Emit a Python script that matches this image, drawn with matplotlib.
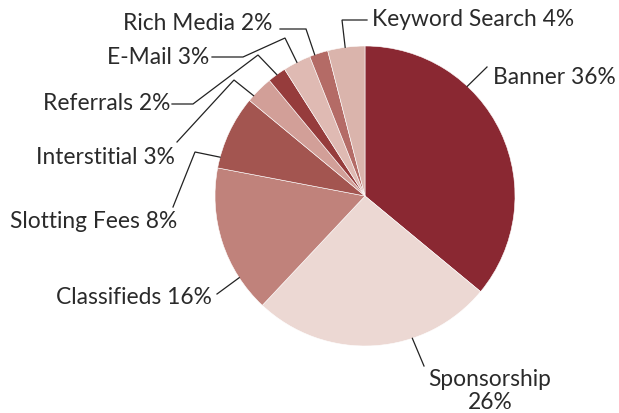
import numpy as np
import matplotlib
matplotlib.use("Agg")
import matplotlib.pyplot as plt

# Online ad revenue share by format
categories = ["Banner", "Sponsorship", "Classifieds", "Slotting Fees", "Interstitial",
              "Referrals", "E-Mail", "Rich Media", "Keyword Search"]
shares = [36, 26, 16, 8, 3, 2, 3, 2, 4]
colors = ["#8a2832", "#ecd8d3", "#c0827b", "#a35550", "#d29f98",
          "#963c3c", "#dfbab3", "#b46b66", "#dab4ac"]

W, H = 619, 413
CX, CY, R = 365, 196, 150
TEXT_COLOR = "#2a2a2a"

# label placement in pixel space: leader start angle on the rim (deg, ccw from 3 o'clock),
# elbow points, text anchor and alignment
layout = {
    "Banner":         dict(ang=47,    pts=[(487, 67)],             txt=(493, 78),  ha="left"),
    "Sponsorship":    dict(ang=-71.6, pts=[(424, 366)],            txt=(490, 391), ha="center"),
    "Classifieds":    dict(ang=-147,  pts=[(217, 294)],            txt=(212, 297), ha="right"),
    "Slotting Fees":  dict(ang=165,   pts=[(195, 152), (173, 207)], txt=(177, 221), ha="right"),
    "Interstitial":   dict(ang=138,   pts=[(234, 80), (177, 142)],  txt=(175, 158), ha="right"),
    "Referrals":      dict(ang=126,   pts=[(258, 55), (193, 104), (172, 104)], txt=(170, 104), ha="right"),
    "E-Mail":         dict(ang=117,   pts=[(285, 38), (243, 57), (212, 57)],   txt=(209, 58),  ha="right"),
    "Rich Media":     dict(ang=109.6, pts=[(306, 29), (280, 29)],   txt=(272, 24),  ha="right"),
    "Keyword Search": dict(ang=97.6,  pts=[(342, 20), (367, 20)],   txt=(372, 20),  ha="left"),
}

plt.rcParams["font.family"] = ["Lato", "DejaVu Sans"]

fig = plt.figure(figsize=(W / 100, H / 100), dpi=100)
ax = fig.add_axes([0, 0, 1, 1])

# y axis runs downward, so counterclockwise here reads clockwise on screen
ax.pie(shares, colors=colors, startangle=-90, counterclock=True,
       center=(CX, CY), radius=R, frame=True,
       wedgeprops=dict(edgecolor="white", linewidth=0.4))
ax.set_xlim(0, W)
ax.set_ylim(H, 0)
ax.set_aspect("equal")
ax.axis("off")

for name, val in zip(categories, shares):
    lay = layout[name]
    a = np.deg2rad(lay["ang"])
    start = (CX + R * np.cos(a), CY - R * np.sin(a))
    xs, ys = zip(*([start] + lay["pts"]))
    ax.plot(xs, ys, color="#222222", lw=0.9, solid_joinstyle="miter")
    label = f"{name}\n{val}%" if name == "Sponsorship" else f"{name} {val}%"
    ax.text(*lay["txt"], label, ha=lay["ha"], va="center", fontsize=16.4,
            color=TEXT_COLOR, linespacing=1.1)

fig.savefig("out.png", dpi=100)
